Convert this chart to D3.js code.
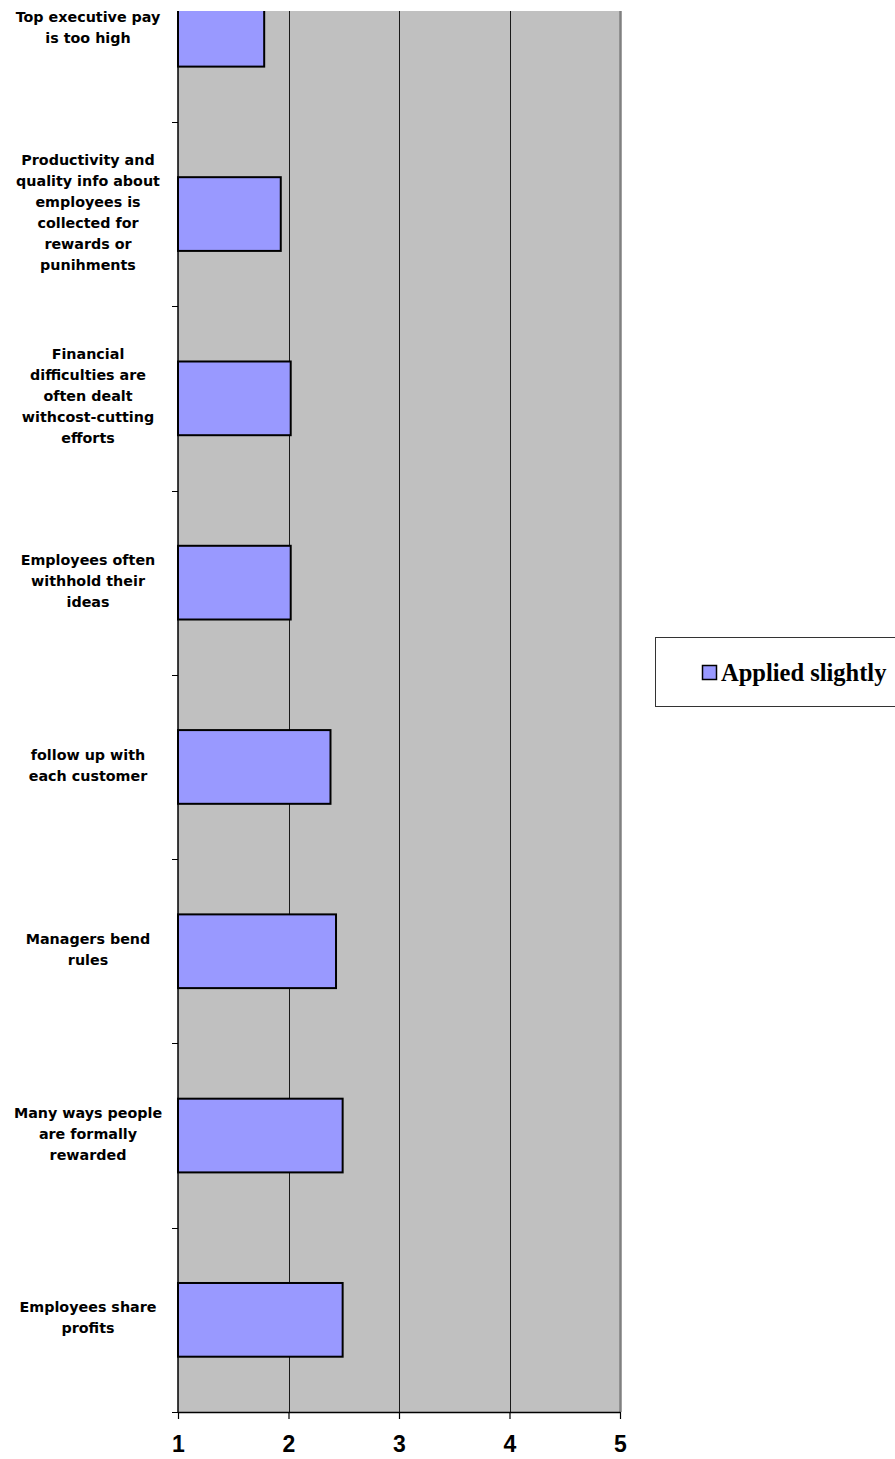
<!DOCTYPE html>
<html>
<head>
<meta charset="utf-8">
<script src="https://cdn.jsdelivr.net/npm/d3@7"></script>
<style>
  html, body { margin: 0; padding: 0; background: #ffffff; }
  svg { display: block; }
</style>
</head>
<body>
<svg id="chart" width="895" height="1459"></svg>
<script>
// Survey items, listed top to bottom
const categories = [
  "Top executive pay is too high",
  "Productivity and quality info about employees is collected for rewards or punihments",
  "Financial difficulties are often dealt withcost-cutting efforts",
  "Employees often withhold their ideas",
  "follow up with each customer",
  "Managers bend rules",
  "Many ways people are formally rewarded",
  "Employees share profits"
];

// How each category label is broken into lines
const labelLines = [
  ["Top executive pay", "is too high"],
  ["Productivity and", "quality info about", "employees is", "collected for", "rewards or", "punihments"],
  ["Financial", "difficulties are", "often dealt", "withcost-cutting", "efforts"],
  ["Employees often", "withhold their", "ideas"],
  ["follow up with", "each customer"],
  ["Managers bend", "rules"],
  ["Many ways people", "are formally", "rewarded"],
  ["Employees share", "profits"]
];

// Mean rating for the "Applied slightly" series
const appliedSlightly = [1.78, 1.93, 2.02, 2.02, 2.38, 2.43, 2.49, 2.49];

const seriesName = "Applied slightly";
const xTicks = [1, 2, 3, 4, 5];

const svg = d3.select("#chart");

// Plot frame
const left = 178, right = 620, bottom = 1412, visibleTop = 11;
const step = 184.3;
const bandTop = bottom - step * categories.length;

const x = d3.scaleLinear().domain([1, 5]).range([left, right]);
const y = d3.scaleBand()
  .domain(categories)
  .range([bandTop, bottom])
  .paddingInner(0.6)
  .paddingOuter(0.3);

// Clip the plot region to what is shown
svg.append("defs").append("clipPath").attr("id", "plotClip")
  .append("rect")
  .attr("x", left - 10).attr("y", visibleTop)
  .attr("width", right - left + 20).attr("height", bottom - visibleTop + 20);

const plot = svg.append("g").attr("clip-path", "url(#plotClip)");

// Plot background
plot.append("rect")
  .attr("x", left).attr("y", visibleTop)
  .attr("width", right - left).attr("height", bottom - visibleTop)
  .attr("fill", "#c0c0c0");

// Right border of the plot area
plot.append("line")
  .attr("x1", right + 0.5).attr("x2", right + 0.5)
  .attr("y1", visibleTop).attr("y2", bottom)
  .attr("stroke", "#808080").attr("stroke-width", 2.5);

// Vertical gridlines
plot.append("g")
  .selectAll("line")
  .data(xTicks.filter(t => t > 1 && t < 5))
  .join("line")
  .attr("x1", d => Math.round(x(d)) + 0.5).attr("x2", d => Math.round(x(d)) + 0.5)
  .attr("y1", visibleTop).attr("y2", bottom)
  .attr("stroke", "#1a1a1a").attr("stroke-width", 1);

// Bars
plot.append("g")
  .selectAll("rect")
  .data(categories)
  .join("rect")
  .attr("x", x(1))
  .attr("y", d => y(d))
  .attr("width", (d, i) => x(appliedSlightly[i]) - x(1))
  .attr("height", y.bandwidth())
  .attr("fill", "#9999ff")
  .attr("stroke", "#000000")
  .attr("stroke-width", 2);

// Bottom value axis
const xAxis = svg.append("g")
  .attr("transform", `translate(0,${bottom})`)
  .call(d3.axisBottom(x).tickValues(xTicks).tickFormat(d3.format("d")).tickSize(7).tickSizeOuter(0));
xAxis.select(".domain").attr("stroke", "#000").attr("stroke-width", 1.5);
xAxis.selectAll(".tick line").attr("stroke", "#000").attr("stroke-width", 1.2);
xAxis.selectAll(".tick text")
  .attr("y", 24)
  .attr("font-family", "'Liberation Sans', Arial, sans-serif")
  .attr("font-weight", "bold")
  .attr("font-size", 23)
  .attr("fill", "#000");

// Left category axis line
svg.append("line")
  .attr("x1", left).attr("x2", left)
  .attr("y1", visibleTop).attr("y2", bottom + 1)
  .attr("stroke", "#000").attr("stroke-width", 1.5);

// Category boundary ticks
const boundaries = d3.range(categories.length + 1).map(i => bandTop + i * y.step());
svg.append("g")
  .selectAll("line")
  .data(boundaries.filter(b => b > visibleTop))
  .join("line")
  .attr("x1", left - 6).attr("x2", left)
  .attr("y1", d => Math.round(d) + 0.5).attr("y2", d => Math.round(d) + 0.5)
  .attr("stroke", "#000").attr("stroke-width", 1);

// Category labels
const lineH = 21;
const labels = svg.append("g")
  .attr("font-family", "'DejaVu Sans', Verdana, sans-serif")
  .attr("font-weight", "bold")
  .attr("font-size", 14.3)
  .attr("fill", "#000")
  .attr("text-anchor", "middle");

categories.forEach((c, i) => {
  const cy = y(c) + y.bandwidth() / 2 - 2;
  const lines = labelLines[i];
  const t = labels.append("text").attr("x", 88);
  lines.forEach((ln, j) => {
    t.append("tspan")
      .attr("x", 88)
      .attr("y", cy + (j - (lines.length - 1) / 2) * lineH)
      .attr("dy", "0.36em")
      .text(ln);
  });
});

// Legend
const legend = svg.append("g");
legend.append("rect")
  .attr("x", 655.5).attr("y", 637.5)
  .attr("width", 300).attr("height", 69)
  .attr("fill", "#ffffff")
  .attr("stroke", "#333333").attr("stroke-width", 1);
legend.append("rect")
  .attr("x", 702.5).attr("y", 665.5)
  .attr("width", 14).attr("height", 14)
  .attr("fill", "#9999ff")
  .attr("stroke", "#000").attr("stroke-width", 1.5);
legend.append("text")
  .attr("x", 721).attr("y", 681)
  .attr("font-family", "'Liberation Serif', 'Times New Roman', serif")
  .attr("font-weight", "bold")
  .attr("font-size", 24.5)
  .attr("fill", "#000")
  .text(seriesName);
</script>
</body>
</html>
